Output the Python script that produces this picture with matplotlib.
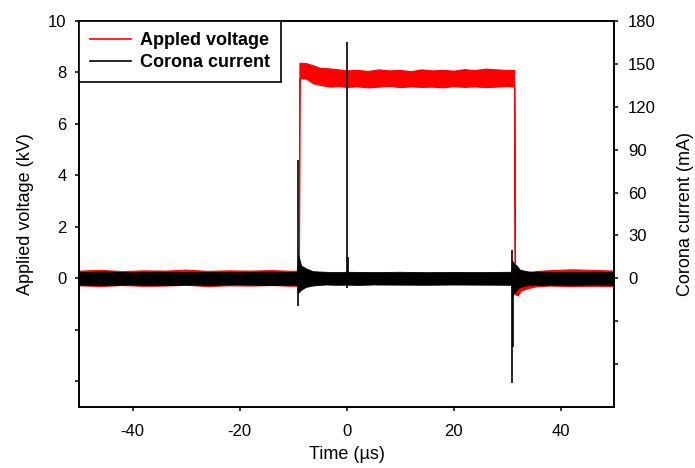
import matplotlib
matplotlib.use("Agg")
import matplotlib.pyplot as plt
from matplotlib.lines import Line2D

plt.rcParams['font.family'] = ['Liberation Sans', 'DejaVu Sans']

# applied voltage trace (kV), read as the upper / lower edge of the noisy band
t_volt = [-50, -46, -42, -38, -34, -30, -26, -22, -18, -14, -10, -8.9,
          -8.8, -7.5, -6.3, -5, -3.2, -1.5, 0, 2, 4, 6, 8, 10, 12, 14, 16,
          18, 20, 22, 24, 26, 28, 30, 31.35,
          31.45, 32, 32.6, 33.9, 35.4, 38, 42, 46, 50]
volt_hi = [0.30, 0.33, 0.28, 0.31, 0.30, 0.34, 0.29, 0.31, 0.30, 0.32, 0.29, 0.30,
           8.38, 8.36, 8.28, 8.18, 8.16, 8.12, 8.08, 8.10, 8.06, 8.12, 8.08, 8.10,
           8.05, 8.12, 8.08, 8.10, 8.07, 8.13, 8.09, 8.15, 8.12, 8.10, 8.10,
           0.10, 0.12, 0.15, 0.20, 0.28, 0.32, 0.35, 0.33, 0.30]
volt_lo = [-0.27, -0.30, -0.26, -0.29, -0.28, -0.25, -0.30, -0.27, -0.28, -0.26, -0.29, -0.28,
           7.78, 7.76, 7.58, 7.52, 7.45, 7.47, 7.44, 7.46, 7.42, 7.45, 7.48, 7.43,
           7.46, 7.44, 7.45, 7.42, 7.47, 7.44, 7.46, 7.43, 7.45, 7.47, 7.45,
           -0.62, -0.66, -0.47, -0.38, -0.31, -0.28, -0.30, -0.29, -0.30]

# corona current trace (mA), band edges plus the discharge spikes
t_curr = [-50, -45, -40, -35, -30, -25, -20, -15, -10,
          -9.3, -9.0, -8.5, -7.6, -6.3,
          -4, -2, 0, 2, 5, 10, 15, 20, 25,
          30.8, 31.0, 31.4, 31.8, 32.4,
          34, 38, 42, 46, 50]
curr_hi = [4.4, 4.8, 4.2, 4.6, 4.4, 4.5, 4.3, 4.7, 4.4,
           4.5, 16.0, 9.0, 7.0, 5.0,
           4.6, 4.4, 4.6, 4.5, 4.4, 4.6, 4.3, 4.5, 4.4,
           4.6, 12.0, 10.0, 9.0, 6.0,
           4.8, 4.5, 4.4, 4.6, 4.4]
curr_lo = [-4.4, -4.6, -4.3, -4.7, -4.4, -4.5, -4.2, -4.6, -4.4,
           -4.5, -10.0, -8.0, -6.0, -5.0,
           -4.3, -4.5, -4.4, -4.6, -4.3, -4.4, -4.5, -4.3, -4.4,
           -4.5, -12.0, -10.0, -8.0, -6.0,
           -4.6, -4.4, -4.5, -4.3, -4.4]
spike_t = [-9.1, 0.05, 0.3, 31.0, 31.2]
spike_hi = [82.6, 165, 15, 19.6, 5]
spike_lo = [-19.6, -7, -3, -73.5, -48]

volt_ticks = [-4, -2, 0, 2, 4, 6, 8, 10]
curr_ticks = [-60, -30, 0, 30, 60, 90, 120, 150, 180]
time_ticks = [-40, -20, 0, 20, 40]

fig = plt.figure(figsize=(6.95, 4.68), dpi=100)
ax = fig.add_axes([0.1137, 0.1303, 0.7698, 0.8248])
ax2 = ax.twinx()

ax.fill_between(t_volt, volt_lo, volt_hi, color='#ff0000', lw=0.8, edgecolor='#ff0000')
ax2.fill_between(t_curr, curr_lo, curr_hi, color='black', lw=0.6, edgecolor='black')
ax2.vlines(spike_t, spike_lo, spike_hi, color='black', lw=1.2)

ax.set_xlim(-50, 50)
ax.set_ylim(-5, 10)
ax2.set_ylim(-90, 180)

ax.set_xticks(time_ticks)
ax.set_xticklabels([str(v) for v in time_ticks])
ax.set_yticks(volt_ticks)
ax.set_yticklabels([str(v) if v >= 0 else '' for v in volt_ticks])
ax2.set_yticks(curr_ticks)
ax2.set_yticklabels([str(v) if v >= 0 else '' for v in curr_ticks])

for a in (ax, ax2):
    for s in a.spines.values():
        s.set_linewidth(1.2)
ax.tick_params(axis='both', direction='out', length=3, width=1.1, labelsize=12)
ax.tick_params(axis='x', pad=9)
ax.tick_params(axis='y', pad=6)
ax2.tick_params(axis='y', direction='out', length=3, width=1.1, labelsize=12, pad=7)

ax.set_xlabel('Time (µs)', fontsize=13, labelpad=5)
ax.set_ylabel('Applied voltage (kV)', fontsize=13, labelpad=10)
ax2.set_ylabel('Corona current (mA)', fontsize=13, labelpad=15)

handles = [Line2D([], [], color='#ff0000', lw=1.2), Line2D([], [], color='black', lw=1.2)]
leg = ax2.legend(handles, ['Appled voltage', 'Corona current'], loc='upper left',
                 borderaxespad=0, fancybox=False, framealpha=1, handlelength=2.3,
                 handletextpad=0.5, borderpad=0.6, labelspacing=0.3,
                 prop={'weight': 'bold', 'size': 13})
leg.get_frame().set_edgecolor('black')
leg.get_frame().set_linewidth(1.2)

fig.savefig('out.png', dpi=100)
